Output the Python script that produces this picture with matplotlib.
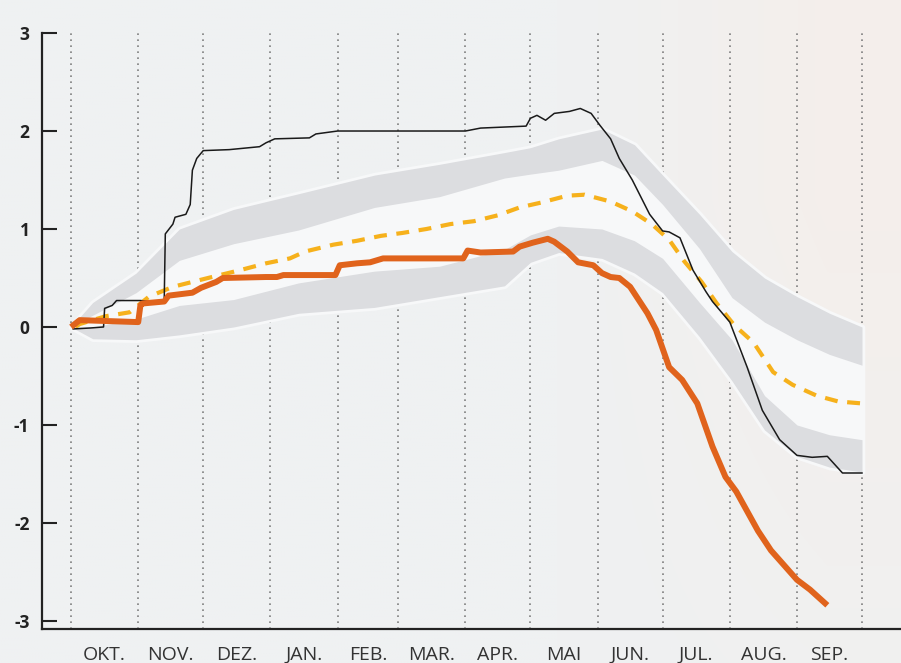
"""Cumulative anomaly over the hydrological year, with percentile bands."""

import matplotlib
matplotlib.use("Agg")
import matplotlib.pyplot as plt
import numpy as np

plt.rcParams["font.family"] = ["Open Sans", "DejaVu Sans"]
plt.rcParams["axes.unicode_minus"] = False

months = ["OKT.", "NOV.", "DEZ.", "JAN.", "FEB.", "MAR.", "APR.",
          "MAI", "JUN.", "JUL.", "AUG.", "SEP."]
month_len = [31, 30, 31, 31, 28, 31, 30, 31, 30, 31, 31, 30]

# percentile bands (day of hydrological year)
band_days = [0, 10, 30, 50, 75, 105, 140, 170, 200, 212, 225, 245,
             260, 273, 290, 305, 320, 335, 350, 365]
p90 = [0.0, 0.25, 0.55, 1.0, 1.2, 1.36, 1.55, 1.66, 1.78, 1.83, 1.92, 2.02,
       1.86, 1.55, 1.15, 0.77, 0.50, 0.31, 0.14, 0.0]
p75 = [0.0, 0.12, 0.35, 0.68, 0.85, 0.99, 1.22, 1.33, 1.52, 1.56, 1.60, 1.70,
       1.55, 1.25, 0.80, 0.30, 0.05, -0.13, -0.28, -0.39]
p25 = [0.0, 0.0, 0.08, 0.22, 0.28, 0.45, 0.57, 0.62, 0.79, 0.94, 1.03, 1.00,
       0.88, 0.70, 0.25, -0.13, -0.70, -1.00, -1.10, -1.15]
p10 = [0.0, -0.12, -0.13, -0.08, 0.0, 0.14, 0.20, 0.31, 0.42, 0.66, 0.76, 0.70,
       0.55, 0.35, -0.10, -0.55, -1.05, -1.32, -1.43, -1.48]

median_days = [2, 4, 16, 27, 36, 47, 56, 65, 78, 90, 101, 108, 121, 132, 143,
               153, 164, 175, 186, 197, 207, 217, 229, 237, 249, 259, 268, 276,
               283, 291, 298, 306, 315, 324, 333, 344, 354, 365]
median_vals = [0.0, 0.03, 0.11, 0.15, 0.31, 0.41, 0.46, 0.51, 0.58, 0.65, 0.70,
               0.77, 0.84, 0.88, 0.93, 0.96, 1.00, 1.05, 1.08, 1.14, 1.22, 1.27,
               1.34, 1.35, 1.28, 1.18, 1.05, 0.89, 0.67, 0.46, 0.24, 0.02,
               -0.16, -0.46, -0.59, -0.70, -0.76, -0.78]

# previous year (black)
prev_days = [1, 9, 15, 15.5, 19, 21, 32, 36, 43, 43.5, 47, 48, 53, 55, 56, 58,
             61, 73, 87, 90, 94, 110, 113, 123, 182, 189, 210, 212, 215, 219,
             223, 230, 235, 240, 244, 249, 253, 259, 267, 273, 276, 281, 287,
             293, 296, 304, 312, 319, 327, 335, 342, 349, 356, 365]
prev_vals = [-0.02, -0.01, 0.0, 0.19, 0.22, 0.27, 0.27, 0.26, 0.27, 0.95,
             1.05, 1.12, 1.15, 1.25, 1.60, 1.72, 1.80, 1.81, 1.84, 1.88, 1.92,
             1.93, 1.97, 2.00, 2.00, 2.03, 2.05, 2.13, 2.16, 2.11, 2.18, 2.20,
             2.23, 2.18, 2.06, 1.92, 1.72, 1.50, 1.15, 0.98, 0.97, 0.91, 0.58,
             0.36, 0.26, 0.05, -0.41, -0.85, -1.15, -1.31, -1.33, -1.32,
             -1.49, -1.49]

# current year (orange)
cur_days = [0, 4, 31, 32, 33, 43, 45, 56, 60, 67, 70, 90, 95, 98, 122, 124,
            132, 138, 144, 181, 183, 189, 204, 207, 213, 220, 223, 229, 234,
            241, 245, 249, 253, 258, 266, 270, 276, 282, 289, 296, 302, 307,
            312, 317, 323, 327, 331, 335, 341, 349]
cur_vals = [0.0, 0.07, 0.05, 0.22, 0.24, 0.26, 0.32, 0.35, 0.40, 0.46, 0.50,
            0.51, 0.51, 0.53, 0.53, 0.63, 0.65, 0.66, 0.70, 0.70, 0.78, 0.76,
            0.77, 0.82, 0.86, 0.90, 0.87, 0.77, 0.66, 0.63, 0.55, 0.51, 0.50,
            0.41, 0.14, -0.03, -0.41, -0.54, -0.78, -1.22, -1.53, -1.68,
            -1.88, -2.08, -2.28, -2.38, -2.48, -2.58, -2.68, -2.84]

edges = np.concatenate([[0], np.cumsum(month_len)])
mids = (edges[:-1] + edges[1:]) / 2

fig = plt.figure(figsize=(9.01, 6.63), dpi=100)
fig.patch.set_facecolor("#eff1f2")

# faint warm tint towards the top right, like the photo behind the original
bg = fig.add_axes([0, 0, 1, 1], zorder=-1)
gx, gy = np.meshgrid(np.linspace(0, 1, 300), np.linspace(1, 0, 220))
tint = np.clip((gx - 0.62) / 0.3, 0, 1) * np.clip(0.3 + gy, 0, 1) * 0.75
base = np.array([239, 241, 242]) / 255
warm = np.array([246, 238, 233]) / 255
img = base * (1 - tint[..., None]) + warm * tint[..., None]
bg.imshow(img, aspect="auto", extent=[0, 1, 0, 1], interpolation="bilinear")
bg.axis("off")

ax = fig.add_axes([42 / 901, 34 / 663, 1 - 42 / 901, 1 - 34 / 663])
ax.set_facecolor("none")
ax.set_xlim(-13.4, 383)
ax.set_ylim(-3.082, 3.337)

ax.vlines(edges, -3.082, 3.0, colors="#7f7f7f", linestyles=(0, (1, 2.6)),
          lw=1.2, zorder=1)

ax.fill_between(band_days, p10, p90, color="#f7f8f9", lw=4, zorder=2)
ax.fill_between(band_days, p75, p90, color="#dcdde0", lw=0, zorder=3)
ax.fill_between(band_days, p10, p25, color="#dcdde0", lw=0, zorder=3)

ax.plot(median_days, median_vals, color="#f6b11c", lw=3, dashes=(3.1, 2.3),
        zorder=4)
ax.plot(prev_days, prev_vals, color="#1a1a1a", lw=1.1, zorder=5)
ax.plot(cur_days, cur_vals, color="#e0631c", lw=4.3, solid_capstyle="butt",
        zorder=6)

for s in ["top", "right"]:
    ax.spines[s].set_visible(False)
ax.spines["left"].set_bounds(-3.082, 3.0)
for s in ["left", "bottom"]:
    ax.spines[s].set_linewidth(1.6)
    ax.spines[s].set_color("#222222")

ax.set_yticks(range(-3, 4))
ax.set_yticklabels([str(v) for v in range(-3, 4)], fontweight="bold")
ax.tick_params(axis="y", direction="in", length=11, width=1.5, pad=9,
               labelsize=12.5, colors="#222222")

ax.set_xticks(mids, months)
ax.tick_params(axis="x", length=0, pad=12, labelsize=14, labelcolor="#333333")

plt.savefig("out.png", dpi=100, facecolor=fig.get_facecolor())
plt.close(fig)
